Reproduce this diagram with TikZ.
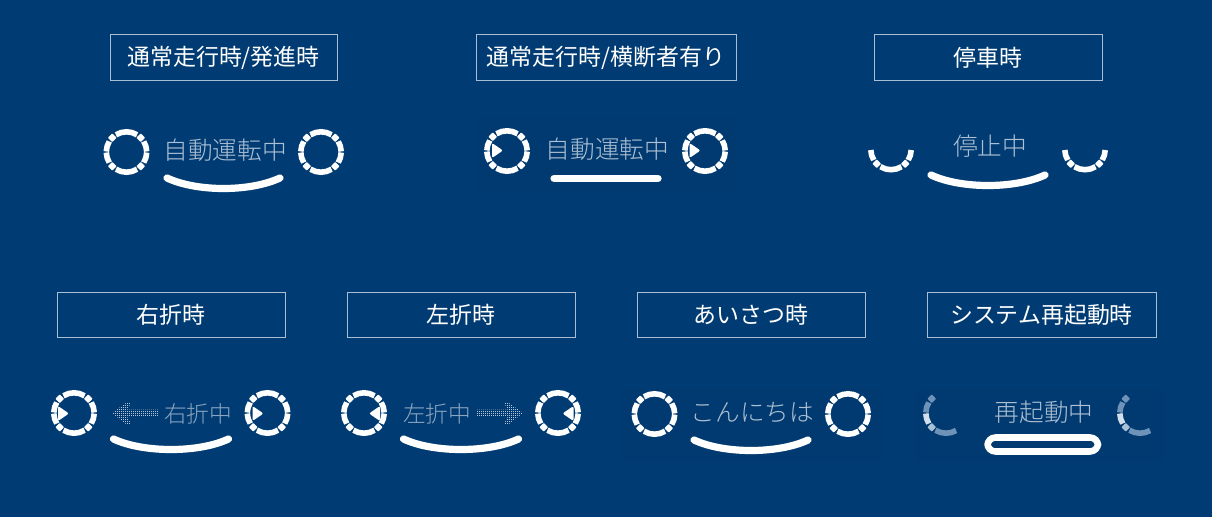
\documentclass[tikz,border=0pt]{standalone}
\usepackage{fontspec}
\usetikzlibrary{calc}
\newfontfamily\jpf{Noto Sans CJK JP}
\newfontfamily\jpl{Noto Sans CJK JP Light}
\definecolor{bgblue}{HTML}{003C73}
\definecolor{bgdark}{HTML}{003A70}
\definecolor{framec}{HTML}{A9BDD3}
\definecolor{ledc}{HTML}{ADC0D4}
\definecolor{leddim}{HTML}{8CA5C1}
\definecolor{arrowc}{HTML}{B4C6D8}
\definecolor{segmid}{HTML}{6F93B8}
\definecolor{seglight}{HTML}{D3E0EB}
\definecolor{segsq}{HTML}{A9C1D6}
\tikzset{
  x=0.75pt,y=0.75pt,
  title/.style={draw=framec,line width=0.75pt,minimum height=33.75pt,inner sep=0pt,text=white,font=\jpf\fontsize{17.2}{19}\selectfont},
  led/.style={text=ledc,inner sep=0pt,font=\jpl\fontsize{18.5}{20}\selectfont},
  leddimmed/.style={led,text=leddim,font=\jpl\fontsize{17}{20}\selectfont},
  seg/.style={line width=4.2pt,draw=white},
  mouth/.style={line width=5.4pt,draw=white,line cap=round},
  meshline/.style={draw=bgblue,line width=0.2pt,step=2},
}
\newcommand{\sqmark}[2]{\fill[#2,rounded corners=0.6pt] (#1:20.2) ++(-4.4,0) -- ++(4.4,4.4) -- ++(4.4,-4.4) -- ++(-4.4,-4.4) -- cycle;}
\newcommand{\segarc}[2]{\draw[seg] (#1:20.2) arc[start angle=#1,end angle=#2,radius=20.2];}
\newcommand{\ledring}[2]{\begin{scope}[shift={(#1,-#2)}]
  \segarc{1.5}{31.5}\segarc{58.5}{121.5}\segarc{148.5}{178.5}\segarc{181.5}{211.5}\segarc{238.5}{301.5}\segarc{328.5}{358.5}
  \sqmark{45}{white}\sqmark{135}{white}\sqmark{225}{white}\sqmark{315}{white}
\end{scope}}
\newcommand{\lowring}[2]{\begin{scope}[shift={(#1,-#2)}]
  \segarc{181.5}{211.5}\segarc{238.5}{301.5}\segarc{328.5}{358.5}
  \sqmark{225}{white}\sqmark{315}{white}
\end{scope}}
\newcommand{\bootring}[2]{\begin{scope}[shift={(#1,-#2)}]
  \draw[seg,draw=segmid] (178.5:20.2) arc[start angle=178.5,end angle=148.5,radius=20.2];
  \draw[seg,draw=seglight] (181.5:20.2) arc[start angle=181.5,end angle=211.5,radius=20.2];
  \draw[seg,draw=segmid] (238.5:20.2) arc[start angle=238.5,end angle=300,radius=20.2];
  \sqmark{135}{segmid}\sqmark{225}{segsq}
\end{scope}}
\newcommand{\rtri}[2]{\fill[white,rounded corners=1.5pt,shift={(#1,-#2)}] (-4.5,7.5) -- (6.5,0) -- (-4.5,-7.5) -- cycle;}
\newcommand{\ltri}[2]{\fill[white,rounded corners=1.5pt,shift={(#1,-#2)}] (4.5,7.5) -- (-6.5,0) -- (4.5,-7.5) -- cycle;}
\newcommand{\mouthcurve}[4]{\coordinate (m#4a) at (#1,-#3);\coordinate (m#4b) at (#2,-#3);
  \draw[mouth] (m#4a) .. controls ($(m#4a)+(30,-14)$) and ($(m#4b)+(-30,-14)$) .. (m#4b);}
\begin{document}
\begin{tikzpicture}
\useasboundingbox (0,0) rectangle (1212,-517);
\fill[bgblue] (0,0) rectangle (1212,-517);
\fill[bgdark] (476,-118) rectangle (737,-192);
\fill[bgdark] (622,-388) rectangle (882,-462);
\fill[bgdark] (915,-388) rectangle (1165,-462);
% titles
\node[title,minimum width=170.25pt] (t1) at (223.5,-57.5) {通常走行時/発進時};
\node[title,minimum width=195pt] (t2) at (606,-57.5) {通常走行時/横断者有り};
\node[title,minimum width=171pt] (t3) at (988,-57.5) {停車時};
\node[title,minimum width=171pt] (t4) at (171,-314.5) {右折時};
\node[title,minimum width=171pt] (t5) at (461,-314.5) {左折時};
\node[title,minimum width=171pt] (t6) at (751,-314.5) {あいさつ時};
\node[title,minimum width=171.75pt] (t7) at (1041.5,-314.5) {システム再起動時};
% LED texts
\node[led] (s1) at (225,-150) {自動運転中};
\node[led] (s2) at (607.5,-149.5) {自動運転中};
\node[led] (s3) at (990,-146) {停止中};
\node[leddimmed] (s4) at (198,-414) {右折中};
\node[leddimmed] (s5) at (437,-414) {左折中};
\node[led] (s6) at (752.5,-412.5) {こんにちは};
\node[led] (s7) at (1044,-412) {再起動中};
% arrows
\fill[arrowc] (112,-413) -- (126,-403) -- (131,-403) -- (127,-409.5) -- (158,-409.5) -- (158,-416.5) -- (127,-416.5) -- (131,-424) -- (126,-424) -- cycle;
\fill[arrowc] (523,-413) -- (509,-403) -- (504,-403) -- (508,-409.5) -- (477,-409.5) -- (477,-416.5) -- (508,-416.5) -- (504,-424) -- (509,-424) -- cycle;
% dot mesh over the arrows
\begin{scope}
\clip (108,-400) rectangle (160,-428) (475,-400) rectangle (526,-428);
\draw[meshline] (0,0) grid (1212,-517);
\end{scope}
% rings
\ledring{126.5}{152}\ledring{321}{152}
\ledring{507}{151}\ledring{705}{151}\rtri{496.5}{150.5}\rtri{694}{150.5}
\lowring{891}{149.5}\lowring{1085}{149.5}
\ledring{74}{413}\ledring{267.5}{413}\rtri{62.5}{413.5}\rtri{257}{413.5}
\ledring{364}{413}\ledring{558}{413}\ltri{375.5}{413.5}\ltri{569}{413.5}
\ledring{654.5}{414}\ledring{848}{414}
\bootring{946}{413}\bootring{1140}{413}
% mouths
\mouthcurve{167}{280}{178}{a}
\draw[mouth] (554,-178.5) -- (658,-178.5);
\mouthcurve{931}{1045}{175}{c}
\mouthcurve{113.5}{228.5}{439}{d}
\mouthcurve{403.5}{518.5}{439}{e}
\mouthcurve{694}{808}{440}{f}
\draw[line width=4.9pt,draw=white,rounded corners=6pt] (987.5,-437.5) rectangle (1098,-451.5);
\end{tikzpicture}
\end{document}
